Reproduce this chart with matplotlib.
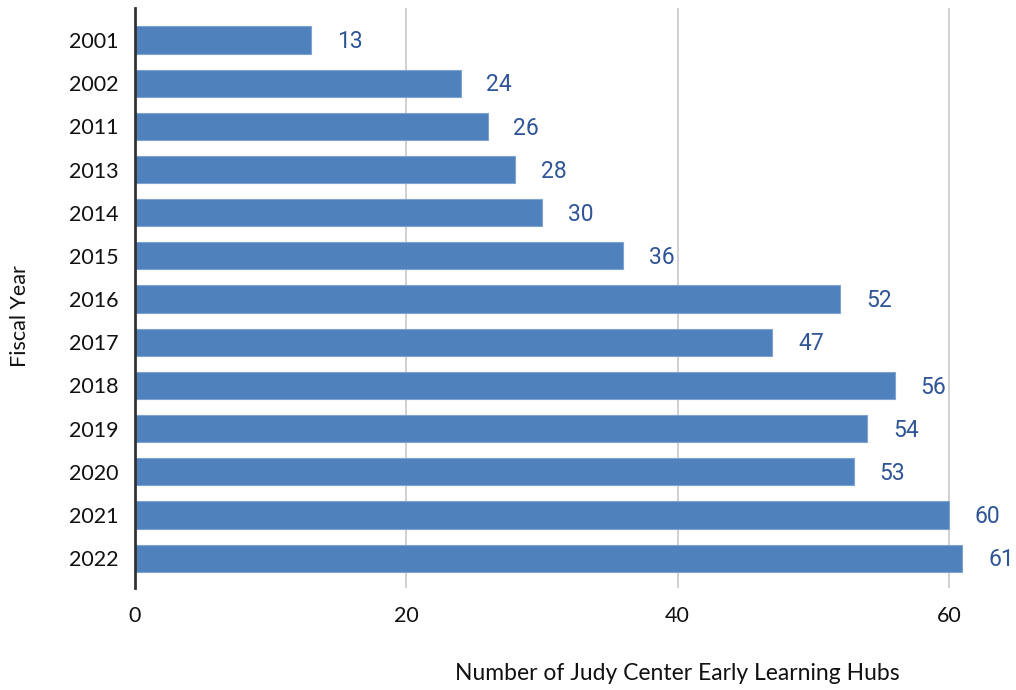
import matplotlib
matplotlib.use("Agg")
import matplotlib.pyplot as plt
import numpy as np

years = ["2001", "2002", "2011", "2013", "2014", "2015", "2016",
         "2017", "2018", "2019", "2020", "2021", "2022"]
hubs = [13, 24, 26, 28, 30, 36, 52, 47, 56, 54, 53, 60, 61]
xticks = [0, 20, 40, 60]

plt.rcParams['font.family'] = ['Lato', 'DejaVu Sans']

fig = plt.figure(figsize=(10.16, 6.90), dpi=100)
ax = fig.add_axes([135/1016, 1 - 588/690, (1003 - 135)/1016, 580/690])

pos = np.arange(len(years))
ax.barh(pos, hubs, height=0.63, color="#4F81BD", edgecolor="#7EA3D1", linewidth=0.8, zorder=3)

# value labels to the right of each bar
for p, v in zip(pos, hubs):
    ax.text(v + 1.9, p + 0.04, str(v), va="center", ha="left", fontsize=16.5,
            color="#2F5597", family=["Roboto", "DejaVu Sans"])

ax.set_yticks(pos)
ax.set_yticklabels(years)
ax.set_ylim(len(years) - 1 + 0.69, -0.74)
ax.set_xlim(0, 64)
ax.set_xticks(xticks)

ax.tick_params(axis="both", length=0, labelsize=15.5, colors="#111111")
ax.tick_params(axis="x", pad=13)
ax.tick_params(axis="y", pad=12)

ax.grid(axis="x", color="#C8C8C8", linewidth=1.2, zorder=0)
for s in ["top", "right", "bottom"]:
    ax.spines[s].set_visible(False)
ax.spines["left"].set_color("#333333")
ax.spines["left"].set_linewidth(2)
ax.spines["left"].set_zorder(4)

fig.text(20/1016, 1 - 316/690, "Fiscal Year", rotation=90, va="center", ha="center", fontsize=15.5, color="#111111")
fig.text(677/1016, 1 - 673/690, "Number of Judy Center Early Learning Hubs", va="center", ha="center", fontsize=16.5, color="#111111")

fig.savefig("out.png", dpi=100)
